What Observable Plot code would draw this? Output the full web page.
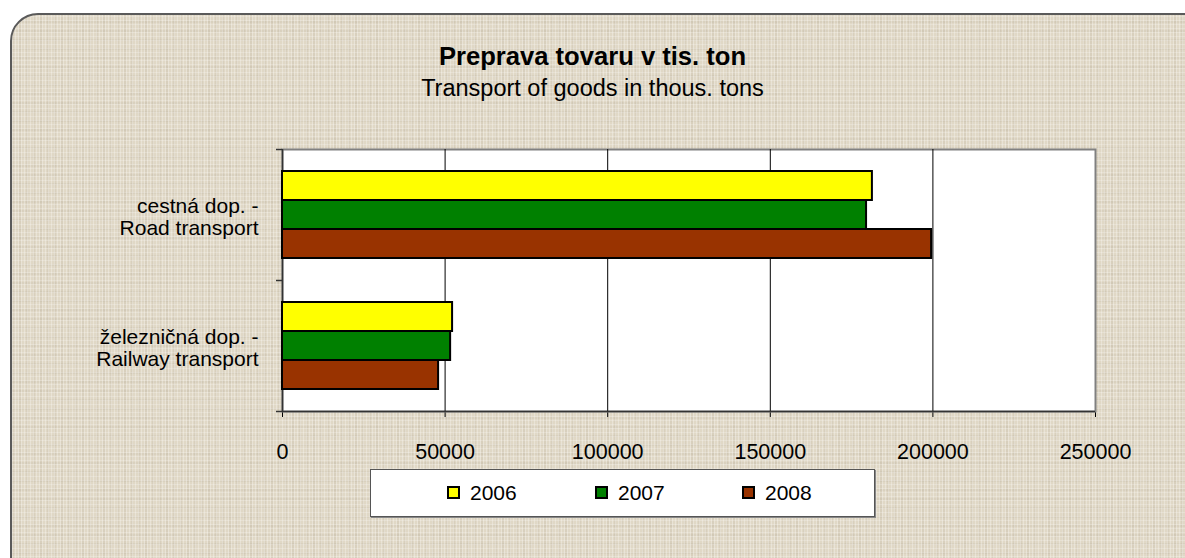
<!DOCTYPE html>
<html>
<head>
<meta charset="utf-8">
<script src="https://cdn.jsdelivr.net/npm/d3@7"></script>
<script src="https://cdn.jsdelivr.net/npm/@observablehq/plot@0.6"></script>
<style>
  html, body { margin: 0; padding: 0; background: #ffffff; }
  #page { position: relative; width: 1185px; height: 558px; overflow: hidden; font-family: "Liberation Sans", Arial, sans-serif; }
  #panel {
    position: absolute; left: 10px; top: 13px; width: 1200px; height: 570px;
    border: 2px solid #5a5a5a; border-top-left-radius: 28px; box-sizing: border-box;
    background-color: #e0d8c6;
    background-image:
      repeating-linear-gradient(90deg, rgba(255,255,255,0.28) 0 1px, transparent 1px 3px),
      repeating-linear-gradient(0deg, rgba(255,255,255,0.22) 0 1px, transparent 1px 4px),
      repeating-linear-gradient(90deg, rgba(110,95,70,0.07) 0 2px, transparent 2px 7px),
      repeating-linear-gradient(0deg, rgba(110,95,70,0.06) 0 2px, transparent 2px 9px);
  }
  #title { position: absolute; left: 0; width: 1185px; top: 41px; line-height: 30px; text-align: center; font-size: 25.6px; font-weight: bold; color: #000; }
  #subtitle { position: absolute; left: 0; width: 1185px; top: 74px; line-height: 28px; text-align: center; font-size: 23.5px; color: #000; }
  #chart { position: absolute; left: 0; top: 140px; }
  #legend {
    position: absolute; left: 370px; top: 469px; width: 505px; height: 48px; box-sizing: border-box;
    background: #fff; border: 1px solid #555; box-shadow: 1px 1px 0 #888;
  }
  .item { position: absolute; top: 0; height: 46px; line-height: 46px; font-size: 21px; color: #000; }
  .sw { display: inline-block; width: 9px; height: 9px; border: 2px solid #000; vertical-align: middle; margin-right: 10px; position: relative; top: -2px; }
</style>
</head>
<body>
<div id="page">
  <div id="panel"></div>
  <div id="title">Preprava tovaru v tis. ton</div>
  <div id="subtitle">Transport of goods in thous. tons</div>
  <div id="chart"></div>
  <div id="legend"></div>
</div>
<script>
const categories = ["cestná dop. -\nRoad transport", "železničná dop. -\nRailway transport"];
const years = ["2006", "2007", "2008"];
const colors = ["#ffff00", "#008000", "#993300"];
const values2006 = [181400, 52300];
const values2007 = [179600, 51700];
const values2008 = [199600, 48000];
const xTicks = [0, 50000, 100000, 150000, 200000, 250000];

const series = [values2006, values2007, values2008];
const table = [];
years.forEach((yr, i) => categories.forEach((c, j) => table.push({year: yr, category: c, value: series[i][j]})));

const W = 1185, mTop = 9, mBottom = 60, mLeft = 282, mRight = 90;
const plotH = 262;
const band = plotH / categories.length;
const barH = 29;
const inset = (band - barH) / 2;
const pxToX = 250000 / (W - mLeft - mRight);
const offsets = [-barH, 0, barH];

const marks = [
  Plot.frame({fill: "white", stroke: "#808080", strokeWidth: 2}),
  Plot.ruleX(xTicks.slice(1, -1), {stroke: "#000", strokeWidth: 1}),
  Plot.ruleX([0], {stroke: "#333", strokeWidth: 1.5}),
  Plot.ruleY(categories, {y: d => d, dy: -band / 2, x1: -6 * pxToX, x2: 0, stroke: "#333", strokeWidth: 1.5}),
  Plot.ruleY([categories[categories.length - 1]], {y: d => d, dy: band / 2, x1: -6 * pxToX, x2: 250000, stroke: "#333", strokeWidth: 1.5}),
];
years.forEach((yr, i) => {
  marks.push(Plot.barX(table.filter(d => d.year === yr), {
    x: "value", y: "category", fill: colors[i], stroke: "#000", strokeWidth: 2,
    insetTop: inset, insetBottom: inset, dy: offsets[i]
  }));
});
marks.push(Plot.text(categories, {x: 0, y: d => d, text: d => d, textAnchor: "end", dx: -24, dy: 2, lineHeight: 1.05, fontSize: 21, fill: "#000"}));

const chart = Plot.plot({
  width: W,
  height: mTop + plotH + mBottom,
  marginTop: mTop, marginBottom: mBottom, marginLeft: mLeft, marginRight: mRight,
  style: {background: "transparent", fontSize: "21.5px", fontFamily: "Liberation Sans, Arial, sans-serif", color: "#000", overflow: "visible"},
  x: {domain: [0, 250000], ticks: xTicks, tickFormat: d => String(d), tickSize: 6, tickPadding: 26, label: null},
  y: {domain: categories, padding: 0, axis: null},
  marks
});
document.getElementById("chart").appendChild(chart);

const legend = document.getElementById("legend");
const lefts = [76, 224, 371];
years.forEach((yr, i) => {
  const it = document.createElement("div");
  it.className = "item";
  it.style.left = lefts[i] + "px";
  const sw = document.createElement("span");
  sw.className = "sw";
  sw.style.background = colors[i];
  it.appendChild(sw);
  it.appendChild(document.createTextNode(yr));
  legend.appendChild(it);
});
</script>
</body>
</html>
